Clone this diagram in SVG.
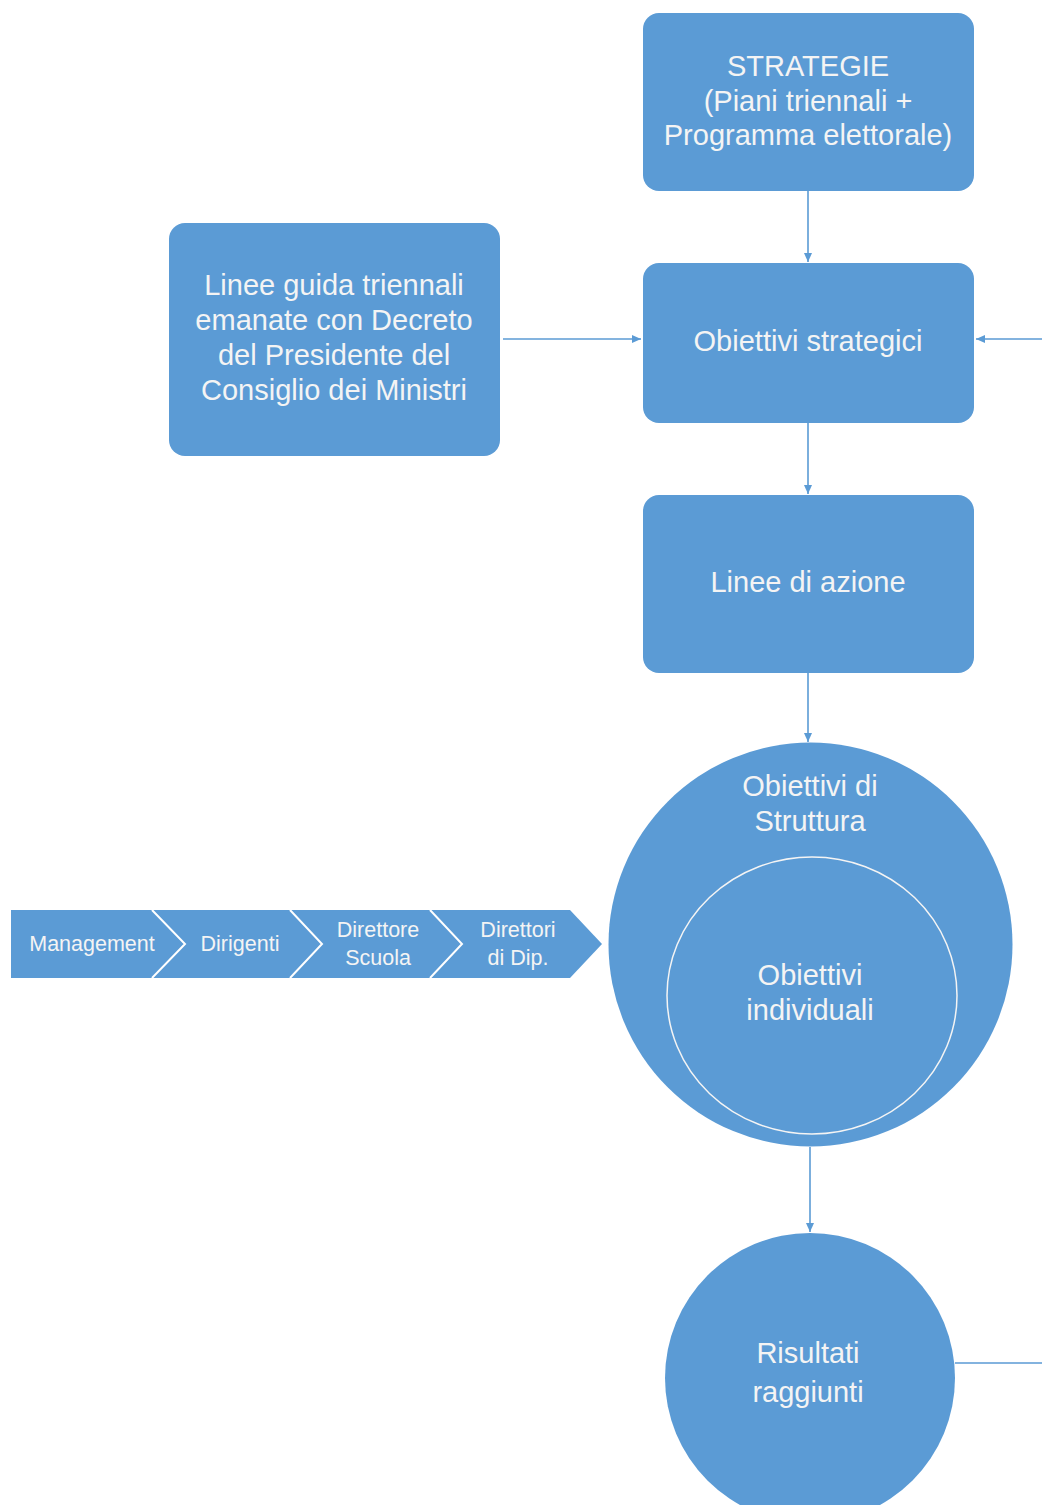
<svg xmlns="http://www.w3.org/2000/svg" width="1042" height="1505" viewBox="0 0 1042 1505">
<style>
.box{fill:#5b9bd5;}
.t{font-family:"Liberation Sans",Arial,sans-serif;fill:#f4f4f4;text-anchor:middle;font-size:29px;}
.s{font-family:"Liberation Sans",Arial,sans-serif;fill:#f4f4f4;text-anchor:middle;font-size:21.5px;}
.c{fill:none;stroke:#5b9bd5;stroke-width:1.6;}
.sep{fill:none;stroke:#ffffff;stroke-width:2;}
</style>
<defs>
<marker id="ah" markerWidth="10" markerHeight="10" refX="9" refY="5" orient="auto" markerUnits="userSpaceOnUse">
<path d="M0,1 L9,5 L0,9 Z" fill="#5b9bd5"/>
</marker>
</defs>
<rect width="1042" height="1505" fill="#ffffff"/>
<g id="connectors">
<line class="c" x1="808" y1="191" x2="808" y2="262" marker-end="url(#ah)"/>
<line class="c" x1="503" y1="339" x2="641" y2="339" marker-end="url(#ah)"/>
<line class="c" x1="808" y1="423" x2="808" y2="494" marker-end="url(#ah)"/>
<line class="c" x1="808" y1="673" x2="808" y2="742" marker-end="url(#ah)"/>
<line class="c" x1="810" y1="1147" x2="810" y2="1232" marker-end="url(#ah)"/>
<polyline class="c" points="955,1363 1043,1363 1043,339 976,339" marker-end="url(#ah)"/>
</g>
<g id="strategie">
<rect class="box" x="643" y="13" width="331" height="178" rx="16"/>
<text class="t" x="808" y="76">STRATEGIE</text>
<text class="t" x="808" y="111">(Piani triennali +</text>
<text class="t" x="808" y="145">Programma elettorale)</text>
</g>
<g id="linee-guida">
<rect class="box" x="169" y="223" width="331" height="233" rx="16"/>
<text class="t" x="334" y="295">Linee guida triennali</text>
<text class="t" x="334" y="330">emanate con Decreto</text>
<text class="t" x="334" y="365">del Presidente del</text>
<text class="t" x="334" y="400">Consiglio dei Ministri</text>
</g>
<g id="obiettivi-strategici">
<rect class="box" x="643" y="263" width="331" height="160" rx="16"/>
<text class="t" x="808" y="351">Obiettivi strategici</text>
</g>
<g id="linee-azione">
<rect class="box" x="643" y="495" width="331" height="178" rx="16"/>
<text class="t" x="808" y="592">Linee di azione</text>
</g>
<g id="obiettivi-struttura">
<circle class="box" cx="810.5" cy="944.5" r="202"/>
<text class="t" x="810" y="796">Obiettivi di</text>
<text class="t" x="810" y="831">Struttura</text>
</g>
<g id="obiettivi-individuali">
<ellipse cx="812" cy="995.5" rx="145" ry="138.5" fill="none" stroke="#f4f4f4" stroke-width="1.5"/>
<text class="t" x="810" y="985">Obiettivi</text>
<text class="t" x="810" y="1020">individuali</text>
</g>
<g id="risultati">
<circle class="box" cx="810" cy="1378" r="145"/>
<text class="t" x="808" y="1363">Risultati</text>
<text class="t" x="808" y="1402">raggiunti</text>
</g>
<g id="chevrons">
<path class="box" d="M11,910 L570,910 L602,944 L570,978 L11,978 Z"/>
<polyline class="sep" points="152,910 185,944 152,978"/>
<polyline class="sep" points="290,910 322,944 290,978"/>
<polyline class="sep" points="430,910 462,944 430,978"/>
<text class="s" x="92" y="951">Management</text>
<text class="s" x="240" y="951">Dirigenti</text>
<text class="s" x="378" y="937">Direttore</text>
<text class="s" x="378" y="965">Scuola</text>
<text class="s" x="518" y="937">Direttori</text>
<text class="s" x="518" y="965">di Dip.</text>
</g>
</svg>
